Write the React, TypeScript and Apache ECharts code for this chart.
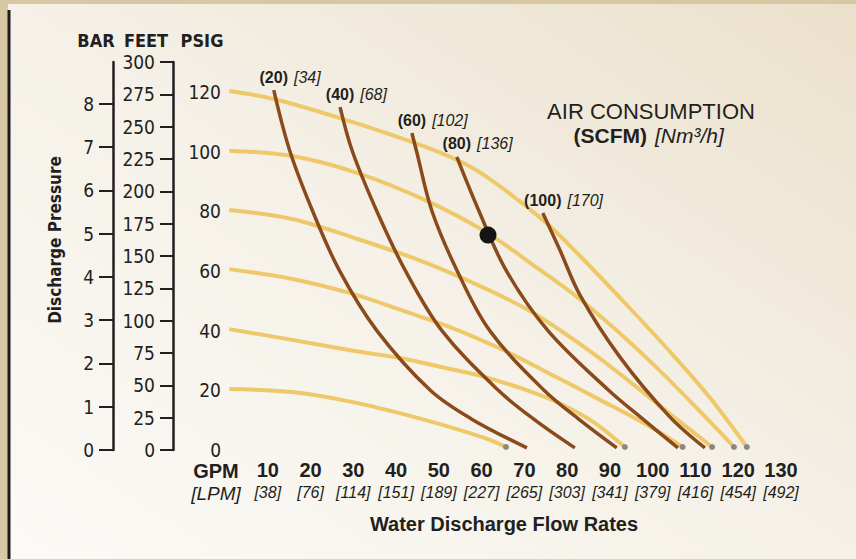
import React, { useEffect, useRef } from "react";
import * as echarts from "echarts";

// ---------- axis tick labels ----------
const gpmTicks = [0, 10, 20, 30, 40, 50, 60, 70, 80, 90, 100, 110, 120, 130];
const lpmLabels = ["", "38", "76", "114", "151", "189", "227", "265", "303", "341", "379", "416", "454", "492"];
const psigTicks = [0, 20, 40, 60, 80, 100, 120];
const feetTicks = [0, 25, 50, 75, 100, 125, 150, 175, 200, 225, 250, 275, 300];
const barTicks = [0, 1, 2, 3, 4, 5, 6, 7, 8];

// ---------- discharge pressure curves (psig) vs GPM ----------
const psi120 = [[1, 120.3], [11.4, 117.6], [26.9, 111.2], [43.7, 103.2], [54.2, 97.2], [61.2, 91.5], [74.3, 77.1], [83, 65], [94, 48.5], [104, 33], [113.4, 17.5], [122, 1]];
const psi100 = [[1, 100.3], [15.7, 98.5], [31, 92.8], [46.7, 83.8], [61, 73], [73, 61], [83, 50.5], [92, 39.5], [101, 27.5], [110, 14.5], [119, 1]];
const psi80 = [[1, 80.4], [15.7, 77.4], [31, 70.7], [46.7, 62.9], [60.3, 54.5], [72, 46], [85, 33.5], [95, 22.5], [105, 11], [113.9, 1]];
const psi60 = [[1, 60.6], [15.7, 57.3], [29.9, 52.3], [40.9, 47], [52.6, 41.2], [64.3, 34], [74, 27], [87.7, 16.8], [99.4, 7.8], [107, 1]];
const psi40 = [[1, 40.5], [15.7, 36.9], [31, 33], [40.9, 30.8], [50, 28], [60.4, 24.6], [70, 20.3], [78.3, 15.6], [86, 9.5], [93.5, 1]];
const psi20 = [[1, 20.4], [15.7, 19.4], [31, 15.7], [46.7, 10.1], [60.8, 4], [65.7, 1]];

// ---------- air consumption curves (SCFM) ----------
const scfm20 = [[11.4, 120.6], [15.2, 100], [20.5, 80], [26.8, 60], [35.5, 40], [48, 20], [57.5, 10.5], [70.6, 0.7]];
const scfm40 = [[26.9, 114.9], [29.8, 100], [35.5, 80], [42.2, 60], [50.7, 40], [63.9, 20], [72.5, 10], [81.8, 0.7]];
const scfm60 = [[43.7, 106.2], [44.8, 100], [48.4, 80], [54.3, 60], [61.9, 40], [74.6, 20], [83, 10], [91.6, 0.7]];
const scfm80 = [[54.2, 98.2], [59.4, 80], [65.8, 60], [75.5, 40], [89.7, 20], [98, 10], [105.9, 0.7]];
const scfm100 = [[74.3, 79.4], [78.3, 67], [83, 51.9], [92.3, 31.2], [104, 11.1], [112.2, 0.7]];

const airScfm = ["20", "40", "60", "80", "100"];
const airNm3 = ["34", "68", "102", "136", "170"];

const operatingPoint = [61.5, 72];

const yellowCurves = [psi120, psi100, psi80, psi60, psi40, psi20];
const brownCurves = [scfm20, scfm40, scfm60, scfm80, scfm100];

const INK = "#231f20";
const YELLOW = "#efc86a";
const BROWN = "#8a4a1c";
const COND = "'DejaVu Sans Condensed', 'Liberation Sans', sans-serif";
const SANS = "'Liberation Sans', Arial, Helvetica, sans-serif";

function measure(text: string, font: string) {
  const c = document.createElement("canvas").getContext("2d");
  if (!c) return text.length * 8;
  c.font = font;
  return c.measureText(text).width;
}

export default function App() {
  const ref = useRef<HTMLDivElement>(null);
  useEffect(() => {
    const chart = echarts.init(ref.current!, null, { renderer: "svg" });
    const series: any[] = [];
    yellowCurves.forEach((c) =>
      series.push({
        type: "line",
        data: c,
        smooth: 0.35,
        showSymbol: false,
        symbol: "none",
        silent: true,
        z: 2,
        lineStyle: { color: YELLOW, width: 4 },
      })
    );
    brownCurves.forEach((c) =>
      series.push({
        type: "line",
        data: c,
        smooth: 0.35,
        showSymbol: false,
        symbol: "none",
        silent: true,
        z: 4,
        lineStyle: { color: BROWN, width: 3.5 },
      })
    );
    series.push({
      type: "scatter",
      data: yellowCurves.map((c) => c[c.length - 1]),
      symbol: "circle",
      symbolSize: 6,
      itemStyle: { color: "#86888a", opacity: 1 },
      silent: true,
      z: 3,
    });
    series.push({
      type: "scatter",
      data: [operatingPoint],
      symbol: "circle",
      symbolSize: 17,
      itemStyle: { color: "#161414", opacity: 1 },
      silent: true,
      z: 6,
    });

    const axisCommon = {
      type: "value",
      position: "left",
      splitLine: { show: false },
    };

    chart.setOption({
      animation: false,
      grid: { left: 225, right: 75, top: 62, bottom: 109 },
      xAxis: {
        type: "value",
        min: 0,
        max: 130,
        interval: 10,
        axisLine: { show: false },
        axisTick: { show: false },
        splitLine: { show: false },
        axisLabel: {
          margin: 9,
          formatter: (v: number) => {
            const i = gpmTicks.indexOf(v);
            if (i <= 0) return "";
            return `{g|${v}}\n{l|[${lpmLabels[i]}]}`;
          },
          rich: {
            g: { fontFamily: SANS, fontWeight: "bold", fontSize: 20, lineHeight: 22, color: INK },
            l: { fontFamily: SANS, fontStyle: "italic", fontSize: 16, lineHeight: 22, color: INK },
          },
        },
      },
      yAxis: [
        {
          ...axisCommon,
          min: 0,
          max: 130,
          interval: 10,
          axisLine: { show: false },
          axisTick: { show: false },
          axisLabel: { customValues: psigTicks, margin: 4, fontFamily: COND, fontSize: 19, color: INK, padding: [8, 0, 0, 0] },
        },
        {
          ...axisCommon,
          min: 0,
          max: 300,
          interval: 25,
          offset: 52,
          axisLine: { show: true, lineStyle: { color: INK, width: 2.5 } },
          axisTick: { show: true, length: 13, lineStyle: { color: INK, width: 2 } },
          axisLabel: { customValues: feetTicks, margin: 18, fontFamily: COND, fontSize: 19, color: INK },
        },
        {
          ...axisCommon,
          min: 0,
          max: 130 / 14.5038,
          offset: 112,
          axisLine: { show: true, lineStyle: { color: INK, width: 2.5 } },
          axisTick: { show: true, customValues: barTicks, length: 14, lineStyle: { color: INK, width: 2 } },
          axisLabel: { customValues: barTicks, margin: 19, fontFamily: COND, fontSize: 19, color: INK },
        },
      ],
      series,
    });

    const boldFont = `bold 16px ${SANS}`;
    const curveLabels: any[] = [];
    brownCurves.forEach((c, i) => {
      const p = chart.convertToPixel({ seriesIndex: yellowCurves.length + i }, c[0]) as number[];
      const b = `(${airScfm[i]})`;
      const w = measure(b, boldFont);
      curveLabels.push({
        type: "text",
        x: p[0],
        y: p[1] - 13,
        style: { text: b, font: boldFont, fill: INK, align: "center", verticalAlign: "middle" },
        z: 10,
      });
      curveLabels.push({
        type: "text",
        x: p[0] + w / 2 + 6,
        y: p[1] - 13,
        style: { text: `[${airNm3[i]}]`, font: `italic 16px ${SANS}`, fill: INK, align: "left", verticalAlign: "middle" },
        z: 10,
      });
    });

    const text = (t: string, x: number, y: number, font: string, extra: any = {}, align = "center") => ({
      type: "text",
      x,
      y,
      style: { text: t, font, fill: INK, align, verticalAlign: "middle" },
      z: 10,
      ...extra,
    });

    chart.setOption({
      graphic: [
        {
          type: "rect",
          shape: { x: 8, y: 4, width: 848, height: 555 },
          style: {
            fill: new echarts.graphic.LinearGradient(1, 0, 0, 1, [
              { offset: 0, color: "#ebe0cb" },
              { offset: 0.5, color: "#f5f1e8" },
              { offset: 1, color: "#fbfaf6" },
            ]),
          },
          z: -10,
          silent: true,
        },
        {
          type: "line",
          shape: { x1: 9, y1: 10, x2: 9, y2: 559 },
          style: { stroke: "#1d1b1b", lineWidth: 3 },
          z: -5,
          silent: true,
        },
        text("BAR", 96, 40, `bold 18px ${COND}`),
        text("FEET", 146, 40, `bold 18px ${COND}`),
        text("PSIG", 202, 40, `bold 18px ${COND}`),
        text("Discharge Pressure", 55, 240, `bold 17px ${COND}`, { rotation: Math.PI / 2 }),
        text("GPM", 216, 471, `bold 20px ${SANS}`),
        text("[LPM]", 216, 493, `italic 19px ${SANS}`),
        text("Water Discharge Flow Rates", 504, 524, `bold 20px ${SANS}`),
        text("AIR CONSUMPTION", 651, 111, `22px ${SANS}`),
        text("(SCFM)", 647, 135, `bold 21px ${SANS}`, {}, "right"),
        text("[Nm³/h]", 655, 135, `italic 21px ${SANS}`, {}, "left"),
        ...curveLabels,
      ],
    });

    return () => chart.dispose();
  }, []);

  return (
    <div style={{ position: "absolute", left: 0, top: 0, width: 856, height: 559, background: "#d8c7a3" }}>
      <div ref={ref} style={{ width: 856, height: 559 }} />
    </div>
  );
}
